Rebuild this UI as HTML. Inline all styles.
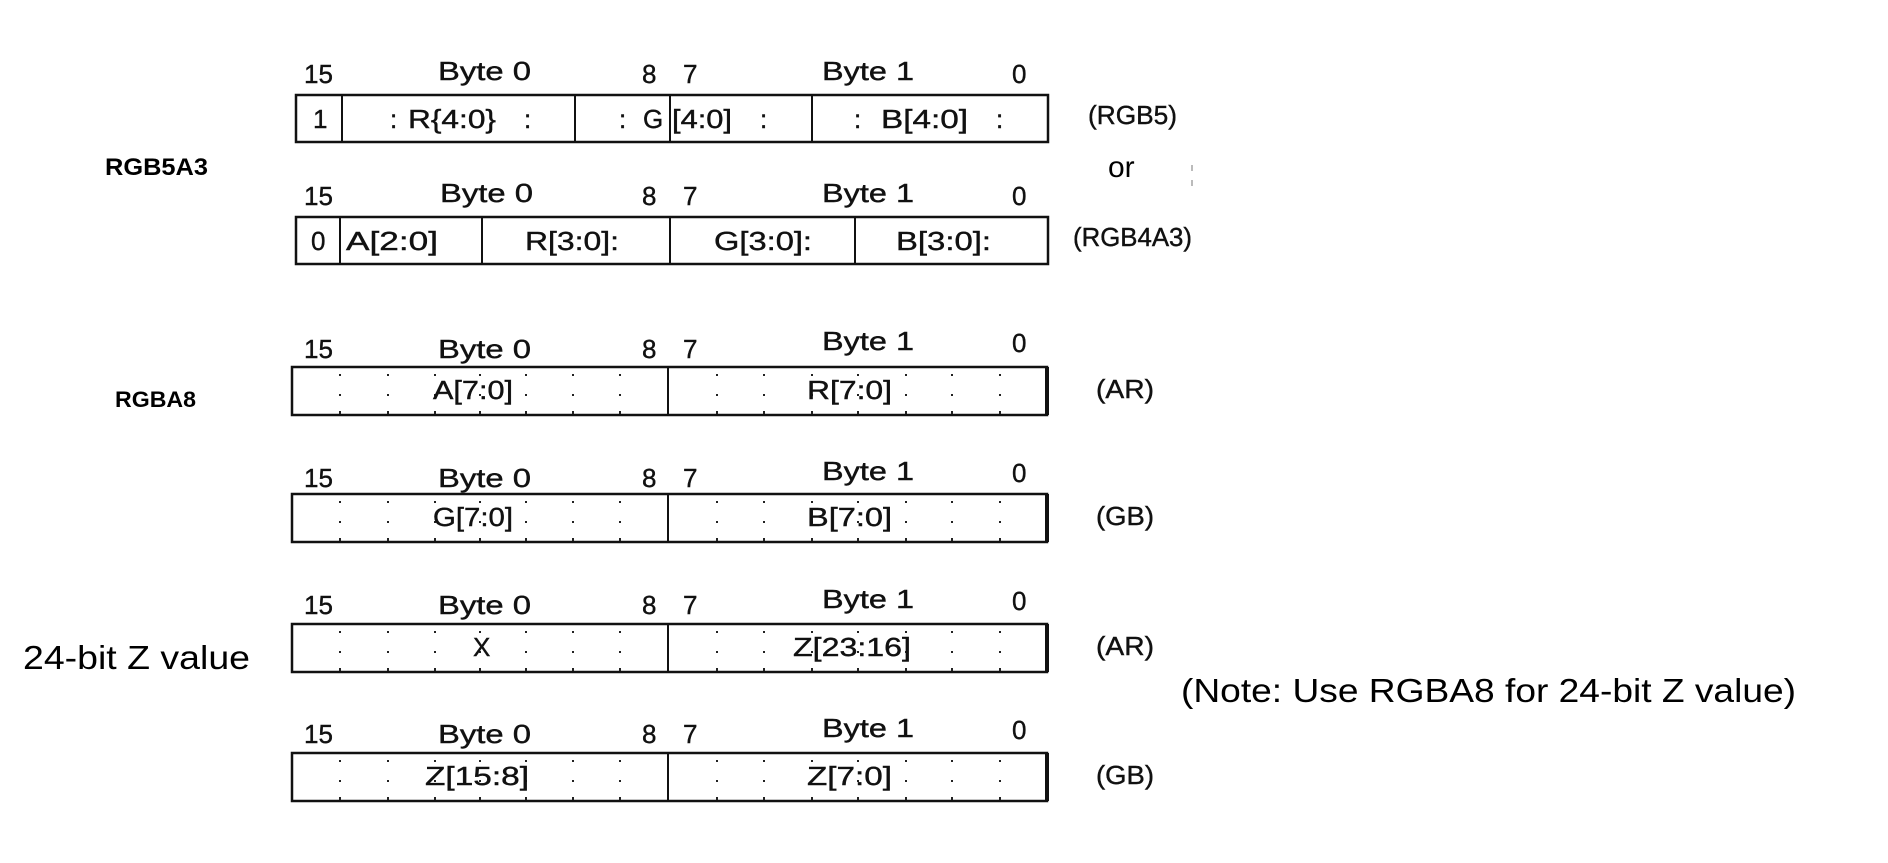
<!DOCTYPE html>
<html><head><meta charset="utf-8"><style>
html,body{margin:0;padding:0;background:#fff;}
svg{display:block}
.b{font-family:"Liberation Sans Narrow","Liberation Sans",sans-serif;font-size:26px;fill:#111;stroke:#111;stroke-width:0.4}
.a{font-family:"Liberation Sans",Arial,sans-serif;fill:#000}
</style></head><body>
<svg width="1888" height="863" viewBox="0 0 1888 863" xmlns="http://www.w3.org/2000/svg">
<g class="b">
<text x="304" y="83">15</text><text x="438" y="80" textLength="93" lengthAdjust="spacingAndGlyphs">Byte 0</text><text x="642" y="83">8</text><text x="683" y="83">7</text><text x="822" y="80" textLength="92" lengthAdjust="spacingAndGlyphs">Byte 1</text><text x="1012" y="83">0</text>
<text x="304" y="205">15</text><text x="440" y="202" textLength="93" lengthAdjust="spacingAndGlyphs">Byte 0</text><text x="642" y="205">8</text><text x="683" y="205">7</text><text x="822" y="202" textLength="92" lengthAdjust="spacingAndGlyphs">Byte 1</text><text x="1012" y="205">0</text>
<text x="304" y="358">15</text><text x="438" y="358" textLength="93" lengthAdjust="spacingAndGlyphs">Byte 0</text><text x="642" y="358">8</text><text x="683" y="358">7</text><text x="822" y="350" textLength="92" lengthAdjust="spacingAndGlyphs">Byte 1</text><text x="1012" y="352">0</text>
<text x="304" y="487">15</text><text x="438" y="487" textLength="93" lengthAdjust="spacingAndGlyphs">Byte 0</text><text x="642" y="487">8</text><text x="683" y="487">7</text><text x="822" y="480" textLength="92" lengthAdjust="spacingAndGlyphs">Byte 1</text><text x="1012" y="482">0</text>
<text x="304" y="614">15</text><text x="438" y="614" textLength="93" lengthAdjust="spacingAndGlyphs">Byte 0</text><text x="642" y="614">8</text><text x="683" y="614">7</text><text x="822" y="608" textLength="92" lengthAdjust="spacingAndGlyphs">Byte 1</text><text x="1012" y="610">0</text>
<text x="304" y="743">15</text><text x="438" y="743" textLength="93" lengthAdjust="spacingAndGlyphs">Byte 0</text><text x="642" y="743">8</text><text x="683" y="743">7</text><text x="822" y="737" textLength="92" lengthAdjust="spacingAndGlyphs">Byte 1</text><text x="1012" y="739">0</text>
</g>
<g fill="none" stroke="#111">
<rect x="296" y="95" width="752" height="47" stroke-width="2.5"/>
<path d="M342 95V142M575 95V142M670 95V142M812 95V142" stroke-width="2"/>
<rect x="296" y="217" width="752" height="47" stroke-width="2.5"/>
<path d="M340 217V264M482 217V264M670 217V264M855 217V264" stroke-width="2"/>
<rect x="292" y="367" width="755" height="48" stroke-width="2.5"/>
<rect x="292" y="494" width="755" height="48" stroke-width="2.5"/>
<rect x="292" y="624" width="755" height="48" stroke-width="2.5"/>
<rect x="292" y="753" width="755" height="48" stroke-width="2.5"/>
<path d="M1047 367V415M1047 494V542M1047 624V672M1047 753V801" stroke-width="4"/>
<path d="M668 367V415M668 494V542M668 624V672M668 753V801" stroke-width="2"/>
</g>
<g fill="#222">
<defs>
<g id="d"><rect x="-1" y="7" width="2" height="2"/><rect x="-1" y="27" width="2" height="2"/><rect x="-1" y="44" width="2" height="3"/></g>
<g id="row"><use href="#d" x="340"/><use href="#d" x="388"/><use href="#d" x="435"/><use href="#d" x="480"/><use href="#d" x="526"/><use href="#d" x="573"/><use href="#d" x="620"/><use href="#d" x="717"/><use href="#d" x="764"/><use href="#d" x="812"/><use href="#d" x="858"/><use href="#d" x="906"/><use href="#d" x="952"/><use href="#d" x="1000"/></g>
</defs>
<use href="#row" y="367"/><use href="#row" y="494"/><use href="#row" y="624"/><use href="#row" y="753"/>
</g>
<g class="b">
<text x="313" y="128">1</text>
<text x="390" y="128">:</text><text x="408" y="128" textLength="88" lengthAdjust="spacingAndGlyphs">R{4:0}</text><text x="524" y="128">:</text>
<text x="619" y="128">:</text><text x="643" y="128">G</text><text x="672" y="128" textLength="60" lengthAdjust="spacingAndGlyphs">[4:0]</text><text x="760" y="128">:</text>
<text x="854" y="128">:</text><text x="881" y="128" textLength="87" lengthAdjust="spacingAndGlyphs">B[4:0]</text><text x="996" y="128">:</text>
<text x="311" y="250">0</text>
<text x="346" y="250" textLength="92" lengthAdjust="spacingAndGlyphs">A[2:0]</text>
<text x="525" y="250" textLength="94" lengthAdjust="spacingAndGlyphs">R[3:0]:</text>
<text x="714" y="250" textLength="98" lengthAdjust="spacingAndGlyphs">G[3:0]:</text>
<text x="896" y="250" textLength="95" lengthAdjust="spacingAndGlyphs">B[3:0]:</text>
<text x="433" y="399" textLength="80" lengthAdjust="spacingAndGlyphs">A[7:0]</text>
<text x="807" y="399" textLength="85" lengthAdjust="spacingAndGlyphs">R[7:0]</text>
<text x="433" y="526" textLength="80" lengthAdjust="spacingAndGlyphs">G[7:0]</text>
<text x="807" y="526" textLength="85" lengthAdjust="spacingAndGlyphs">B[7:0]</text>
<text x="473" y="656">X</text>
<text x="793" y="656" textLength="118" lengthAdjust="spacingAndGlyphs">Z[23:16]</text>
<text x="425" y="785" textLength="104" lengthAdjust="spacingAndGlyphs">Z[15:8]</text>
<text x="807" y="785" textLength="85" lengthAdjust="spacingAndGlyphs">Z[7:0]</text>
<text x="1088" y="124" textLength="89" lengthAdjust="spacingAndGlyphs">(RGB5)</text>
<text x="1073" y="246" textLength="119" lengthAdjust="spacingAndGlyphs">(RGB4A3)</text>
<text x="1096" y="398" textLength="58" lengthAdjust="spacingAndGlyphs">(AR)</text>
<text x="1096" y="525" textLength="58" lengthAdjust="spacingAndGlyphs">(GB)</text>
<text x="1096" y="655" textLength="58" lengthAdjust="spacingAndGlyphs">(AR)</text>
<text x="1096" y="784" textLength="58" lengthAdjust="spacingAndGlyphs">(GB)</text>
</g>
<g class="a">
<text x="105" y="175" font-size="24" font-weight="bold" textLength="103" lengthAdjust="spacingAndGlyphs">RGB5A3</text>
<text x="115" y="407" font-size="22" font-weight="bold" textLength="81" lengthAdjust="spacingAndGlyphs">RGBA8</text>
<text x="1108" y="177" font-size="30">or</text>
<text x="23" y="669" font-size="33" textLength="227" lengthAdjust="spacingAndGlyphs">24-bit Z value</text>
<text x="1181" y="702" font-size="33" textLength="615" lengthAdjust="spacingAndGlyphs">(Note: Use RGBA8 for 24-bit Z value)</text>
</g>
<rect x="1191" y="165" width="2" height="6" fill="#bbb"/><rect x="1191" y="180" width="2" height="6" fill="#bbb"/>
</svg>
</body></html>
